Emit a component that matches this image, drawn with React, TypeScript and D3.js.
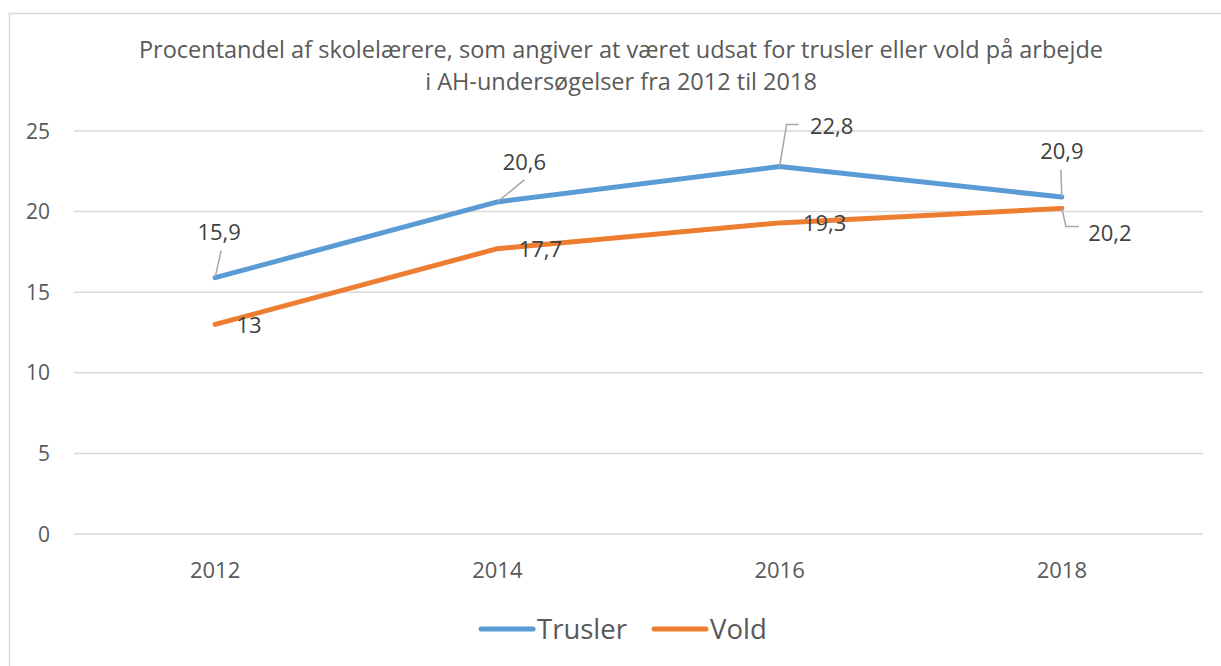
import React from "react";
import * as d3 from "d3";

const years = ["2012", "2014", "2016", "2018"];
const trusler = [15.9, 20.6, 22.8, 20.9];
const vold = [13, 17.7, 19.3, 20.2];
const yTicks = [0, 5, 10, 15, 20, 25];
const titleLines = [
  "Procentandel af skolelærere, som angiver at været udsat for trusler eller vold på arbejde",
  "i AH-undersøgelser fra 2012 til 2018",
];
const seriesNames = ["Trusler", "Vold"];

const W = 1221;
const H = 666;
const FONT = "'Open Sans', Lato, sans-serif";

// label placement offsets (dx, dy of text center/baseline; leader path relative to point)
const truslerLabelPos = [
  { dx: 4, dy: -38, leader: [[0, 0], [6, -27]] },
  { dx: 27, dy: -32, leader: [[0, 0], [27, -22]] },
  { dx: 52, dy: -32, leader: [[0, 0], [7, -42], [19, -42]] },
  { dx: 0, dy: -38, leader: [[0, 0], [-1, -27]] },
];
const voldLabelPos = [
  { dx: 34, dy: 9 },
  { dx: 43, dy: 8 },
  { dx: 45, dy: 8 },
  { dx: 48, dy: 33, leader: [[0, 0], [4, 18], [17, 18]] },
];

export default function App() {
  const x = d3.scaleBand<string>().domain(years).range([74, 1203]).padding(0);
  const cx = (yr: string) => (x(yr) as number) + x.bandwidth() / 2;
  const y = d3.scaleLinear().domain([0, 25]).range([534, 131]);

  const line = d3
    .line<number>()
    .x((_, i) => cx(years[i]))
    .y((d) => y(d));

  const leaderPath = (px: number, py: number, pts: number[][]) =>
    d3.line()(pts.map(([a, b]) => [px + a, py + b] as [number, number])) as string;

  return (
    <svg width={W} height={H} style={{ position: "absolute", left: 0, top: 0, background: "#fff" }}>
      <rect x={9.5} y={13.5} width={1230} height={700} fill="#fff" stroke="#D9D9D9" strokeWidth={1.5} />
      {titleLines.map((t, i) => (
        <text key={i} x={621} y={58 + i * 32} textAnchor="middle" fontFamily={FONT} fontSize={23.5} fill="#595959">
          {t}
        </text>
      ))}
      {yTicks.map((t) => (
        <g key={t}>
          <line x1={74} x2={1203} y1={y(t)} y2={y(t)} stroke="#D9D9D9" strokeWidth={1.5} />
          <text x={50} y={y(t) + 7.5} textAnchor="end" fontFamily={FONT} fontSize={21} fill="#595959">
            {t}
          </text>
        </g>
      ))}
      {years.map((yr) => (
        <text key={yr} x={cx(yr)} y={578} textAnchor="middle" fontFamily={FONT} fontSize={22} fill="#595959">
          {yr}
        </text>
      ))}
      <path d={line(trusler) as string} fill="none" stroke="#5B9BD5" strokeWidth={5} strokeLinecap="round" strokeLinejoin="round" />
      <path d={line(vold) as string} fill="none" stroke="#ED7D31" strokeWidth={5} strokeLinecap="round" strokeLinejoin="round" />
      {trusler.map((v, i) => {
        const px = cx(years[i]);
        const py = y(v);
        const p = truslerLabelPos[i];
        return (
          <g key={"t" + i}>
            <path d={leaderPath(px, py, p.leader)} fill="none" stroke="#A6A6A6" strokeWidth={1.5} />
            <text x={px + p.dx} y={py + p.dy} textAnchor="middle" fontFamily={FONT} fontSize={22} fill="#404040">
              {String(v).replace(".", ",")}
            </text>
          </g>
        );
      })}
      {vold.map((v, i) => {
        const px = cx(years[i]);
        const py = y(v);
        const p = voldLabelPos[i];
        return (
          <g key={"v" + i}>
            {p.leader && <path d={leaderPath(px, py, p.leader)} fill="none" stroke="#A6A6A6" strokeWidth={1.5} />}
            <text x={px + p.dx} y={py + p.dy} textAnchor="middle" fontFamily={FONT} fontSize={22} fill="#404040">
              {String(v).replace(".", ",")}
            </text>
          </g>
        );
      })}
      {seriesNames.map((n, i) => {
        const lx = i === 0 ? 481 : 654;
        const col = i === 0 ? "#5B9BD5" : "#ED7D31";
        return (
          <g key={n}>
            <line x1={lx} x2={lx + 52} y1={629} y2={629} stroke={col} strokeWidth={5} strokeLinecap="round" />
            <text x={lx + 56} y={639} fontFamily={FONT} fontSize={27.5} fill="#595959">
              {n}
            </text>
          </g>
        );
      })}
    </svg>
  );
}
